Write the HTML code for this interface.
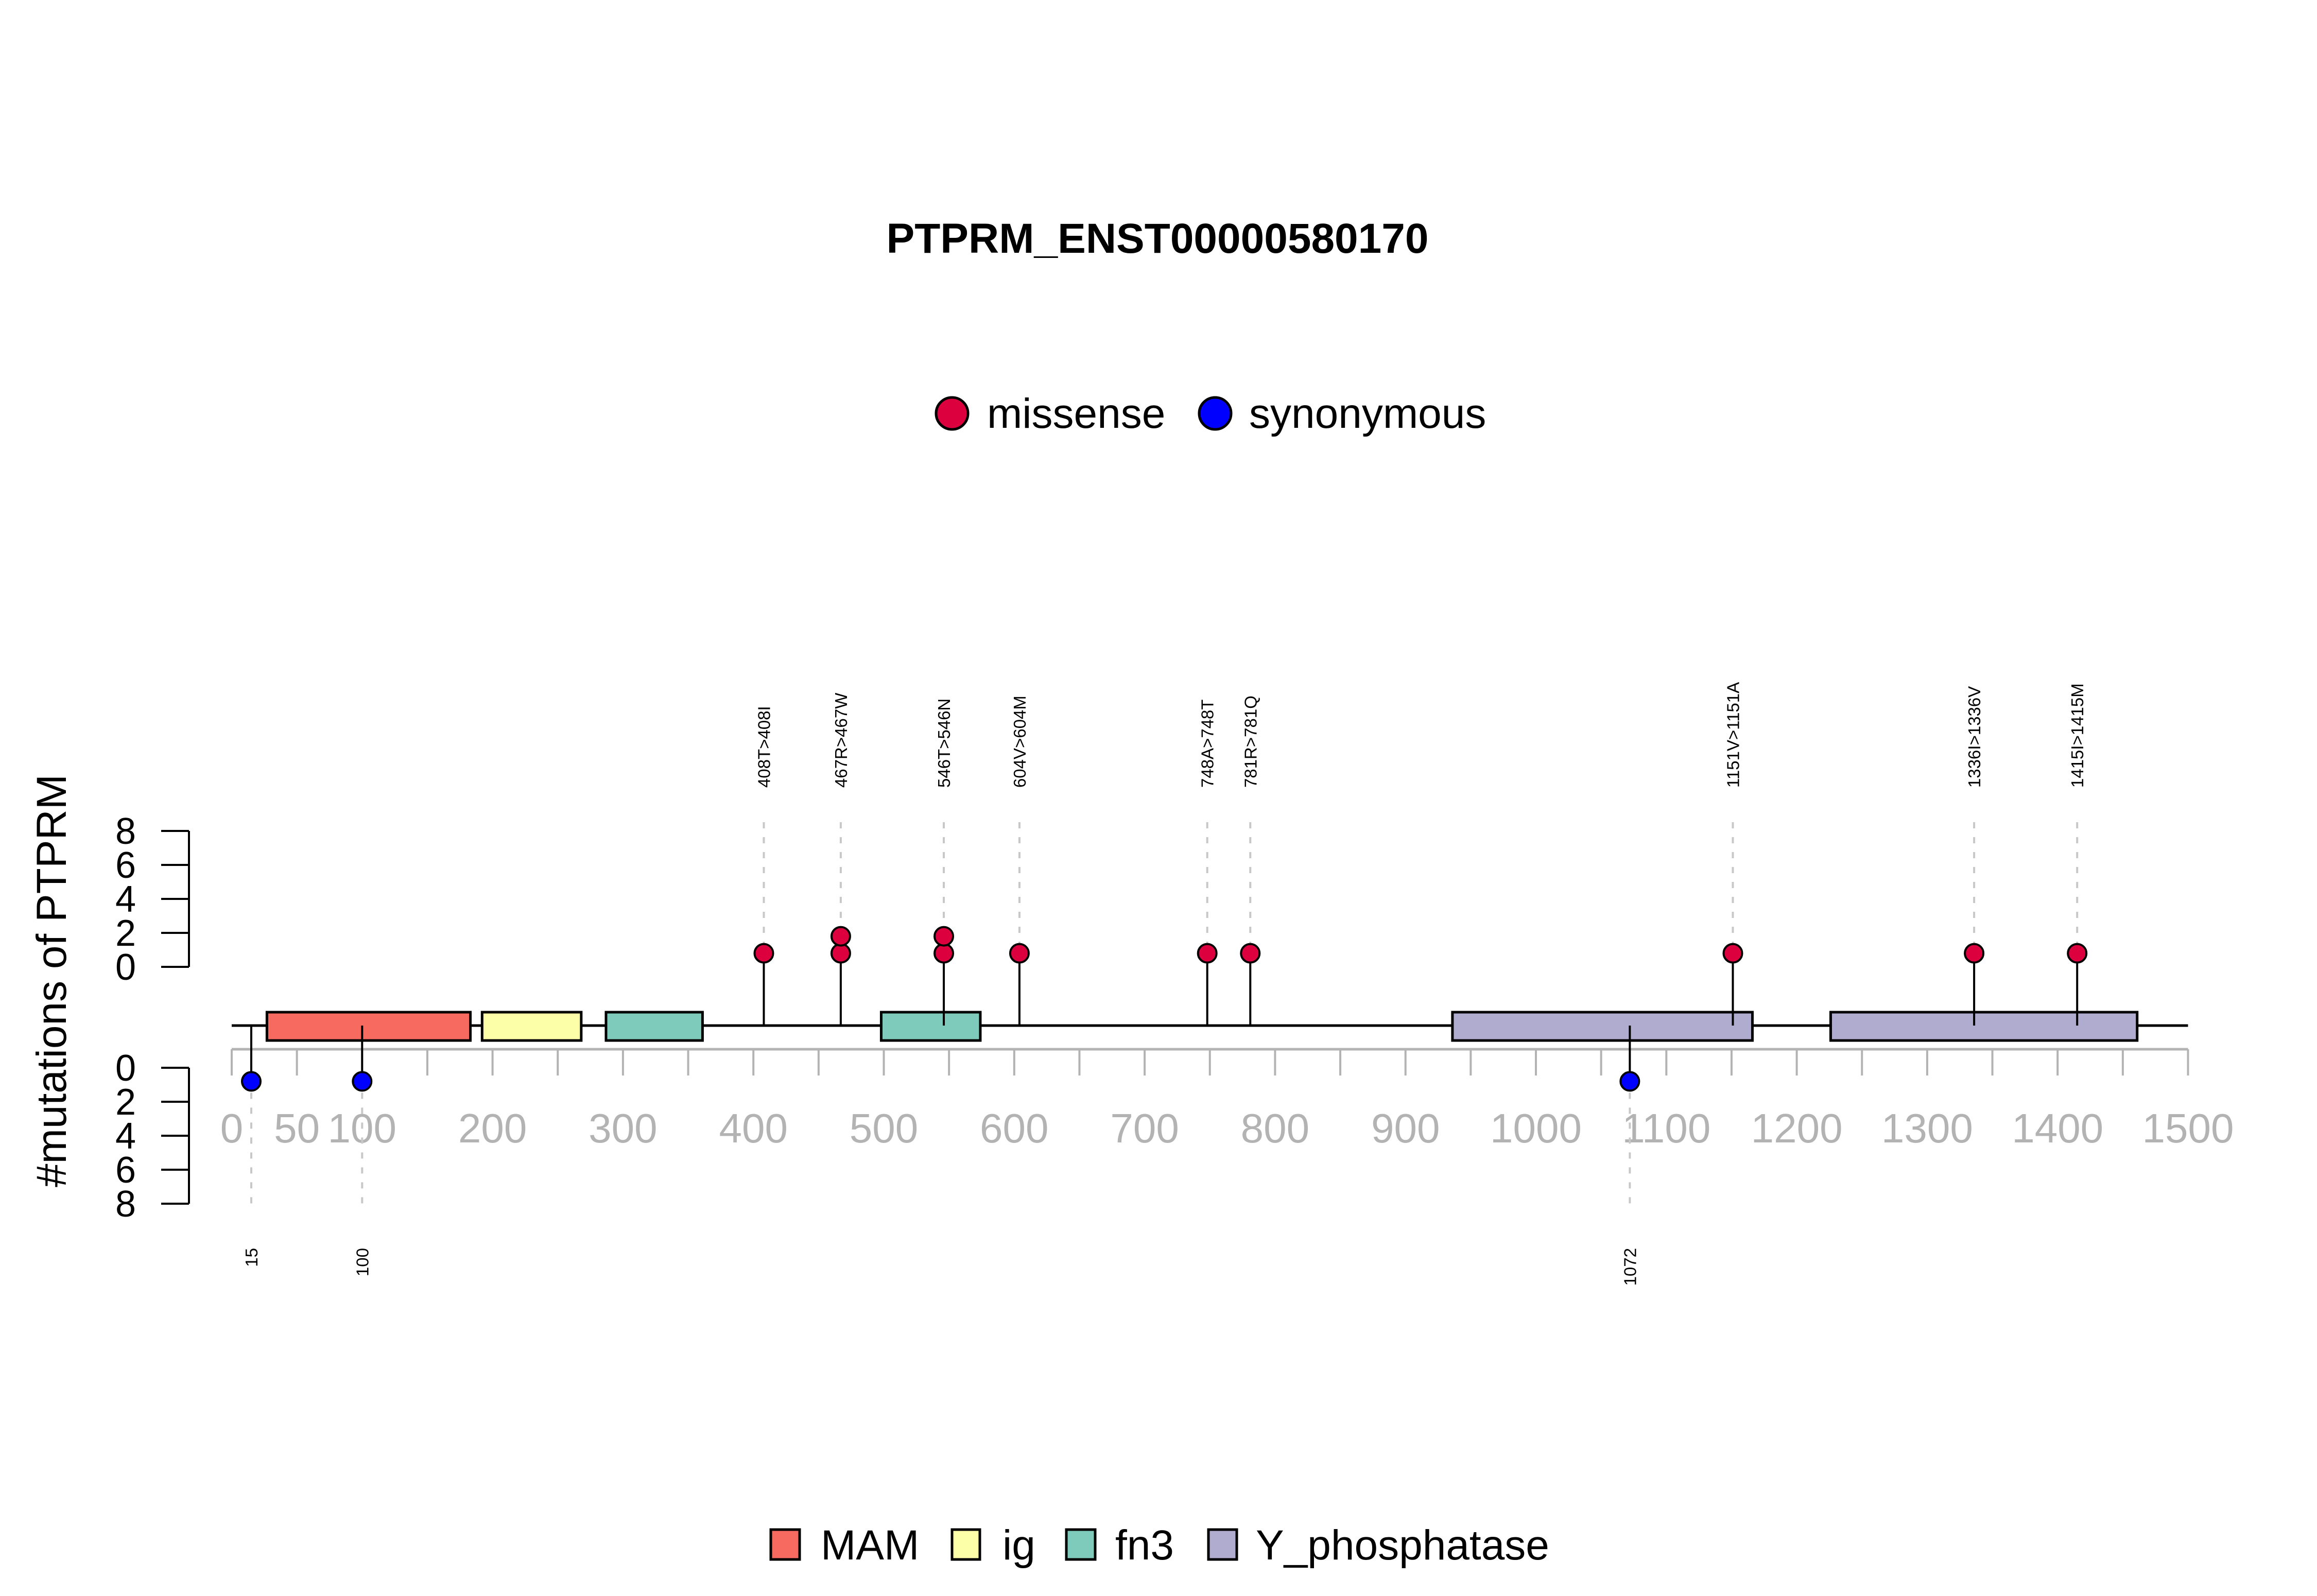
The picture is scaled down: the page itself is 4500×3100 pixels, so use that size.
<!DOCTYPE html>
<html><head><meta charset="utf-8"><style>
html,body{margin:0;padding:0;background:#fff;}
svg{display:block;font-family:"Liberation Sans",Arial,sans-serif;}
</style></head><body>
<svg id="chart" width="4500" height="3100" viewBox="0 0 4500 3100" xmlns="http://www.w3.org/2000/svg">
<text x="2248" y="491" font-size="82" font-weight="bold" text-anchor="middle">PTPRM_ENST00000580170</text>
<g>
<circle cx="1849" cy="803" r="31" fill="#DD003F" stroke="#000" stroke-width="5"/>
<text x="1917" y="831" font-size="82">missense</text>
<circle cx="2360" cy="803" r="31" fill="#0000FF" stroke="#000" stroke-width="5"/>
<text x="2426" y="831" font-size="82">synonymous</text>
</g>
<text transform="translate(128,1905) rotate(-90)" font-size="82" text-anchor="middle">#mutations of PTPRM</text>
<g id="plot"></g>
<g>
<rect x="1497" y="2971" width="56" height="58" fill="#F66A5F" stroke="#000" stroke-width="5"/>
<text x="1594" y="3029" font-size="82">MAM</text>
<rect x="1849" y="2971" width="54" height="58" fill="#FDFEA8" stroke="#000" stroke-width="5"/>
<text x="1947" y="3029" font-size="82">ig</text>
<rect x="2071" y="2971" width="56" height="58" fill="#7FCBBB" stroke="#000" stroke-width="5"/>
<text x="2166" y="3029" font-size="82">fn3</text>
<rect x="2347" y="2971" width="55" height="58" fill="#B0ACD0" stroke="#000" stroke-width="5"/>
<text x="2439" y="3029" font-size="82">Y_phosphatase</text>
</g>
</svg>
<script>
const xTicks = [0,50,100,150,200,250,300,350,400,450,500,550,600,650,700,750,800,850,900,950,1000,1050,1100,1150,1200,1250,1300,1350,1400,1450,1500];
const xTickLabels = ["0","50","100","200","300","400","500","600","700","800","900","1000","1100","1200","1300","1400","1500"];
const yTicks = [0,2,4,6,8];
const domainNames = ["MAM","ig","fn3","fn3","Y_phosphatase","Y_phosphatase"];
const domainStarts = [27,192,287,498,936,1226];
const domainEnds = [183,268,361,574,1166,1461];
const domainColors = ["#F66A5F","#FDFEA8","#7FCBBB","#7FCBBB","#B0ACD0","#B0ACD0"];
const missensePos = [408,467,546,604,748,781,1151,1336,1415];
const missenseCount = [1,2,2,1,1,1,1,1,1];
const missenseLabels = ["408T>408I","467R>467W","546T>546N","604V>604M","748A>748T","781R>781Q","1151V>1151A","1336I>1336V","1415I>1415M"];
const synPos = [15,100,1072];
const synCount = [1,1,1];
const synLabels = ["15","100","1072"];

const NS = "http://www.w3.org/2000/svg";
const g = document.getElementById('plot');
const X = v => 450 + 2.533 * v;
const YU = v => 1878 - 33 * v;
const YL = v => 2074 + 33 * v;
const BACK = 1992;
function mk(tag, attrs, parent){const e=document.createElementNS(NS,tag);for(const k in attrs)e.setAttribute(k,attrs[k]);(parent||g).appendChild(e);return e;}

[["upper",YU],["lower",YL]].forEach(([nm,Y])=>{
  const ax=mk('line',{x1:367,x2:367,y1:Y(0),y2:Y(8),stroke:'#000','stroke-width':4});
  
  
  yTicks.forEach(t=>{
    const tk=mk('line',{x1:313,x2:367,y1:Y(t),y2:Y(t),stroke:'#000','stroke-width':4});
    
    
    const tl=mk('text',{x:264,y:Y(t)+25,'font-size':72,'text-anchor':'end'});
    
    
    tl.textContent=t;
  });
});

const xa=mk('line',{x1:X(0),x2:X(1500),y1:2038,y2:2038,stroke:'#B3B3B3','stroke-width':5});


xTicks.forEach(t=>{
  const tk=mk('line',{x1:X(t),x2:X(t),y1:2038,y2:2089,stroke:'#B3B3B3','stroke-width':4});
  
  
});
xTickLabels.forEach(s=>{
  const tl=mk('text',{x:X(+s),y:2219,'font-size':80,'text-anchor':'middle',fill:'#B3B3B3'});
  
  
  tl.textContent=s;
});

const bb=mk('line',{x1:X(0),x2:X(1500),y1:BACK,y2:BACK,stroke:'#000','stroke-width':5});



domainNames.forEach((n,i)=>{
  const r=mk('rect',{x:X(domainStarts[i]),y:1966,width:X(domainEnds[i])-X(domainStarts[i]),height:55,fill:domainColors[i],stroke:'#000','stroke-width':5});
  
  
});

missensePos.forEach((p,i)=>{
  const x=X(p), n=missenseCount[i];
  const topY=YU(n-0.2);
  const st=mk('line',{x1:x,x2:x,y1:BACK,y2:YU(0.8),stroke:'#000','stroke-width':4});
  
  
  const dl=mk('line',{x1:x,x2:x,y1:1597,y2:topY-20,stroke:'#C8C8C8','stroke-width':4,'stroke-dasharray':'12 17'});
  
  
  for(let k=1;k<=n;k++){
    const c=mk('circle',{cx:x,cy:YU(k-0.2),r:18,fill:'#DD003F',stroke:'#000','stroke-width':4});
    
    
  }
  const t=mk('text',{transform:`translate(${x+12},1530) rotate(-90)`,'font-size':33});
  
  
  t.textContent=missenseLabels[i];
});

synPos.forEach((p,i)=>{
  const x=X(p), n=synCount[i];
  const botY=YL(n-0.2);
  const st=mk('line',{x1:x,x2:x,y1:BACK,y2:botY,stroke:'#000','stroke-width':4});
  
  
  const dl=mk('line',{x1:x,x2:x,y1:botY+22,y2:2347,stroke:'#C8C8C8','stroke-width':4,'stroke-dasharray':'12 17'});
  
  
  for(let k=1;k<=n;k++){
    const c=mk('circle',{cx:x,cy:YL(k-0.2),r:18,fill:'#0000FF',stroke:'#000','stroke-width':4});
    
    
  }
  const t=mk('text',{transform:`translate(${x+12},2424) rotate(-90)`,'font-size':33,'text-anchor':'end'});
  
  
  t.textContent=synLabels[i];
});
</script>
</body></html>
